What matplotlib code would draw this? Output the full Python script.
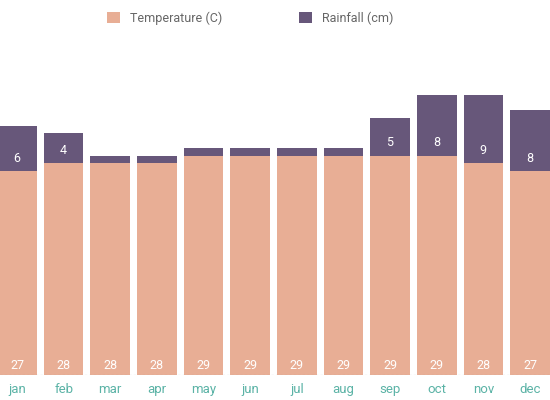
import matplotlib
matplotlib.use("Agg")
import matplotlib.pyplot as plt
import numpy as np

months = ["jan","feb","mar","apr","may","jun","jul","aug","sep","oct","nov","dec"]
temperature = [27,28,28,28,29,29,29,29,29,29,28,27]
rainfall = [6,4,1,1,1,1,1,1,5,8,9,8]

tc = "#E8AE95"
rc = "#67577A"
fig = plt.figure(figsize=(5.5,4), dpi=100)
ax = fig.add_axes([0,0.0625,1,0.8125])
x = np.arange(len(months))
ax.bar(x, temperature, width=0.85, color=tc, label="Temperature (C)")
ax.bar(x, rainfall, width=0.85, bottom=temperature, color=rc, label="Rainfall (cm)")
for i,(t,r) in enumerate(zip(temperature,rainfall)):
    ax.text(i, 1.2, str(t), ha="center", va="center", color="white", fontsize=9, family="Roboto")
    if r >= 3:
        ax.text(i, t+1.7, str(r), ha="center", va="center", color="white", fontsize=9, family="Roboto")
ax.set_xlim(-0.365, 11.43)
ax.set_ylim(0, 43)
ax.axhline(0, color="#999999", lw=0.8, ls=(0,(2,2)))
for s in ax.spines.values():
    s.set_visible(False)
ax.set_yticks([])
ax.set_xticks(x)
ax.set_xticklabels(months, color="#5BB3A6", fontsize=9.5, family="Roboto")
ax.tick_params(axis="x", length=0, pad=6)
leg = fig.legend(loc="upper center", bbox_to_anchor=(0.455,1.0), ncol=2, frameon=False,
                 handlelength=1, handleheight=1, columnspacing=6.2, prop={"family":"Roboto","size":9})
for t in leg.get_texts():
    t.set_color("#666666")
fig.savefig("out.png", dpi=100)
